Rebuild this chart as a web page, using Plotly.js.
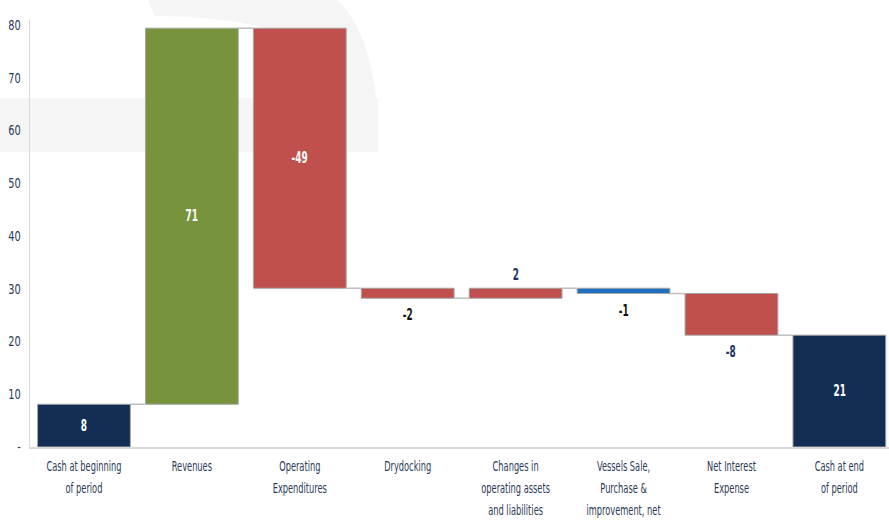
<!DOCTYPE html>
<html>
<head>
<meta charset="utf-8">
<script src="https://cdn.plot.ly/plotly-3.0.1.min.js"></script>
<style>html,body{margin:0;padding:0;background:#fff;}#chart{width:889px;height:523px;}</style>
</head>
<body>
<div id="chart"></div>
<script>
// ---- data ----
const categories = ["Cash at beginning<br>of period", "Revenues", "Operating<br>Expenditures", "Drydocking",
  "Changes in<br>operating assets<br>and liabilities", "Vessels Sale,<br>Purchase &<br>improvement, net",
  "Net Interest<br>Expense", "Cash at end<br>of period"];
const values = [8.1, 71.3, -49.3, -1.9, 1.9, -1.0, -7.9, 21.2];
const isTotal = [true, false, false, false, false, false, false, true];
const valueLabels = ["8", "71", "-49", "-2", "2", "-1", "-8", "21"];
const yTickVals = [0, 10, 20, 30, 40, 50, 60, 70, 80];
const yTickText = ["-", "10", "20", "30", "40", "50", "60", "70", "80"];

// ---- styles ----
const barColors = ["#132e54", "#77933c", "#c0504d", "#c0504d", "#c0504d", "#1f6fc0", "#c0504d", "#132e54"];
const labelInside = [true, true, true, false, false, false, false, true];
const labelColors = ["#ffffff", "#ffffff", "#ffffff", "#111111", "#1a3366", "#111111", "#1a3366", "#ffffff"];
const FONT = "Liberation Sans Narrow, Arial Narrow, DejaVu Sans Condensed, sans-serif";

// ---- compute waterfall geometry from data ----
const bases = [], heights = [], levels = [];
let running = 0;
values.forEach((v, i) => {
  if (isTotal[i]) { bases.push(0); heights.push(v); running = v; }
  else { bases.push(running); heights.push(v); running += v; }
  levels.push(running);
});
const xIdx = categories.map((_, i) => i);

const halfW = 0.43;
const shapes = [];
// watermark background (pixel -> paper helpers)
const L = 30, R = 889, T = 20, B = 447;
const px = x => (x - L) / (R - L);
const py = y => (B - y) / (B - T);
shapes.push({type: 'rect', xref: 'paper', yref: 'paper', layer: 'below',
  x0: px(0), x1: px(378), y0: py(152), y1: py(98), fillcolor: '#f4f5f4', line: {width: 0}});
shapes.push({type: 'path', xref: 'paper', yref: 'paper', layer: 'below',
  path: `M ${px(148)} ${py(0)} L ${px(337)} ${py(0)} Q ${px(380)} ${py(40)} ${px(378)} ${py(152)} L ${px(340)} ${py(152)} L ${px(340)} ${py(90)} Q ${px(330)} ${py(18)} ${px(155)} ${py(16)} Z`,
  fillcolor: '#f4f5f4', line: {width: 0}});
// connectors
for (let i = 0; i < values.length - 1; i++) {
  shapes.push({type: 'line', xref: 'x', yref: 'y', x0: i + halfW, x1: i + 1 - halfW,
    y0: levels[i], y1: levels[i], line: {color: '#bfbfbf', width: 1.5}});
}

// value labels
const annotations = values.map((v, i) => {
  const top = Math.max(bases[i], bases[i] + heights[i]);
  const bot = Math.min(bases[i], bases[i] + heights[i]);
  const a = {x: i, xref: 'x', yref: 'y', text: '<b>' + valueLabels[i] + '</b>', showarrow: false,
    font: {family: FONT, size: 15.5, color: labelColors[i]}};
  if (labelInside[i]) { a.y = (top + bot) / 2; a.yanchor = 'middle'; }
  else if (v > 0) { a.y = top; a.yanchor = 'bottom'; a.yshift = 2; }
  else { a.y = bot; a.yanchor = 'top'; a.yshift = -6; }
  return a;
});

const trace = {
  type: 'bar', x: xIdx, y: heights, base: bases,
  marker: {color: barColors, line: {color: '#a6a6a6', width: 1}},
  hoverinfo: 'none', textposition: 'none'
};

const layout = {
  width: 889, height: 523,
  margin: {l: L, r: 0, t: T, b: 523 - B},
  paper_bgcolor: '#ffffff', plot_bgcolor: 'rgba(0,0,0,0)',
  showlegend: false, bargap: 0.14,
  font: {family: FONT},
  xaxis: {range: [-0.5, 7.46], tickmode: 'array', tickvals: xIdx, ticktext: categories,
    showgrid: false, zeroline: false, showline: true, linecolor: '#d9d9d9', linewidth: 1.5,
    ticks: '', ticklabelstandoff: 6,
    tickfont: {family: FONT, size: 13.5, color: '#2b3a58'}, fixedrange: true},
  yaxis: {range: [0, 80.95], tickmode: 'array', tickvals: yTickVals, ticktext: yTickText,
    showgrid: false, zeroline: false, showline: true, linecolor: '#d9d9d9', linewidth: 1.5,
    ticks: '', ticklabelstandoff: 5,
    tickfont: {family: FONT, size: 14, color: '#2b3a58'}, fixedrange: true},
  shapes: shapes, annotations: annotations
};

// narrow the text horizontally (reference uses a condensed face)
function squeeze(selector, sx, anchor) {
  document.querySelectorAll(selector).forEach(t => {
    const bb = t.getBBox();
    const cx = anchor === 'end' ? bb.x + bb.width : bb.x + bb.width / 2;
    const old = t.getAttribute('transform') || '';
    t.setAttribute('transform', old + ` translate(${cx},0) scale(${sx},1) translate(${-cx},0)`);
  });
}

Plotly.newPlot('chart', [trace], layout, {displayModeBar: false, staticPlot: true}).then(() => {
  document.querySelectorAll('.xtick text tspan.line').forEach(ts => {
    const dy = ts.getAttribute('dy');
    if (dy) {
      const n = parseFloat(dy);
      if (n !== 0) ts.setAttribute('dy', (n * 1.25) + 'em');
    }
  });
  squeeze('.xtick text', 0.68, 'middle');
  squeeze('.ytick text', 0.78, 'end');
  squeeze('.annotation-text', 0.64, 'middle');
});
</script>
</body>
</html>
